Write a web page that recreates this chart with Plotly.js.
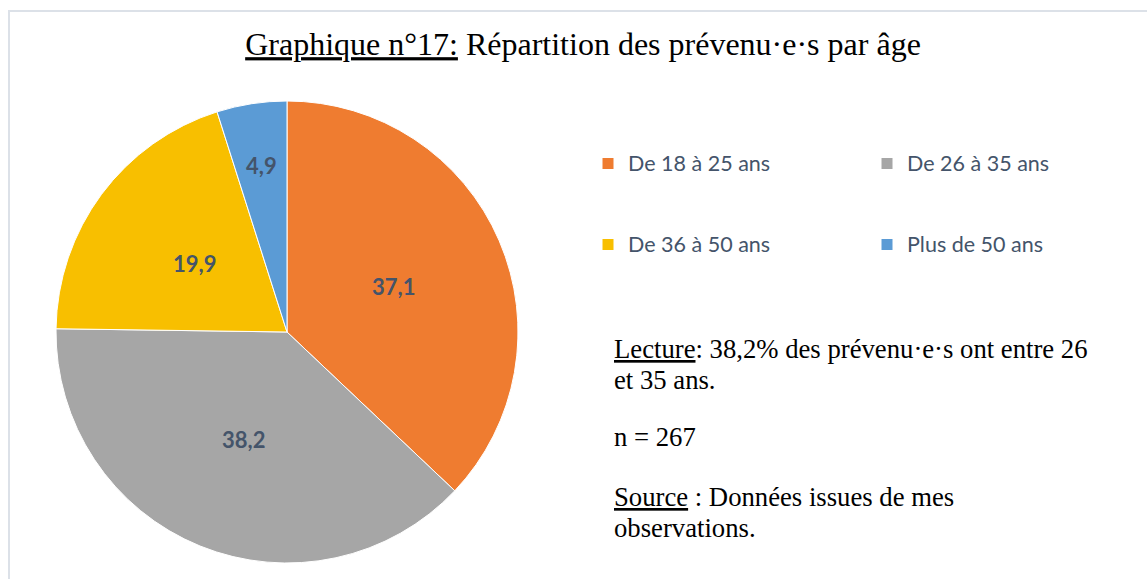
<!DOCTYPE html>
<html>
<head>
<meta charset="utf-8">
<script src="https://cdn.plot.ly/plotly-3.0.1.min.js"></script>
<style>html,body{margin:0;padding:0;background:#fff;}#chart{width:1147px;height:579px;}</style>
</head>
<body>
<div id="chart"></div>
<script>
// ---- data ----
const categories = ['De 18 à 25 ans', 'De 26 à 35 ans', 'De 36 à 50 ans', 'Plus de 50 ans'];
const values = [37.1, 38.2, 19.9, 4.9];
const sliceColors = ['#EF7C30', '#A6A6A6', '#F8BF00', '#5B9BD5'];
const titleText = '<u>Graphique n°17:</u> Répartition des prévenu·e·s par âge';
const noteLines = [
  '<u>Lecture</u>: 38,2% des prévenu·e·s ont entre 26',
  'et 35 ans.',
  'n = 267',
  '<u>Source</u> : Données issues de mes',
  'observations.'
];

// ---- layout helpers (pixels) ----
const W = 1147, H = 579;
const plotW = 700;               // plot area width (right margin leaves room for legend/notes)
const px = x => x / plotW;       // paper x from pixel
const py = y => 1 - y / H;       // paper y from pixel (top-based)
const pieBox = { left: 56, right: 518, top: 101, bottom: 563 };

// legend labels padded with blank lines to get the row spacing of the original
const legendLabels = categories.map(c =>
  '<span style="font-size:21.5px">' + c + '</span><br>\u00a0<br>\u00a0');

const trace = {
  type: 'pie',
  labels: legendLabels,
  values: values,
  sort: false,
  direction: 'clockwise',
  rotation: 0,
  marker: { colors: sliceColors, line: { color: '#ffffff', width: 1 } },
  textinfo: 'none',
  hoverinfo: 'value',
  domain: { x: [px(pieBox.left), px(pieBox.right)], y: [py(pieBox.bottom), py(pieBox.top)] }
};

// data labels: placed along each slice's bisector (computed from the values)
const cx = (pieBox.left + pieBox.right) / 2;
const cy = (pieBox.top + pieBox.bottom) / 2;
const R = (pieBox.right - pieBox.left) / 2;
const total = values.reduce((a, b) => a + b, 0);
const labelFont = { family: 'Lato, sans-serif', size: 22, color: '#44546A', weight: 700 };
let cum = 0;
const dataLabels = values.map(v => {
  const a0 = cum / total * 2 * Math.PI;
  cum += v;
  const a1 = cum / total * 2 * Math.PI;
  const mid = (a0 + a1) / 2, half = (a1 - a0) / 2;
  const txt = String(v).replace('.', ',');
  const halfW = txt.length * 0.27 * labelFont.size;
  const rr = Math.max(0.5 * R, (halfW + 8) / Math.sin(half));
  return {
    text: txt, xref: 'paper', yref: 'paper',
    x: px(cx + rr * Math.sin(mid)), y: py(cy - rr * Math.cos(mid)),
    xanchor: 'center', yanchor: 'middle', showarrow: false, font: labelFont
  };
});

const notePos = [349, 380, 437, 497, 528];
const notes = noteLines.map((t, i) => ({
  text: t, xref: 'paper', yref: 'paper', x: px(612), y: py(notePos[i]),
  xanchor: 'left', yanchor: 'middle', showarrow: false, align: 'left',
  font: { family: 'Liberation Serif, Times New Roman, serif', size: 26.7, color: '#000000' }
}));

const layout = {
  width: W, height: H,
  margin: { l: 0, r: W - plotW, t: 0, b: 0, autoexpand: false },
  paper_bgcolor: '#ffffff',
  plot_bgcolor: '#ffffff',
  separators: ', ',
  title: {
    text: titleText, xref: 'container', yref: 'container',
    x: 583 / W, xanchor: 'center', y: 1 - 44 / H, yanchor: 'middle',
    font: { family: 'Liberation Serif, Times New Roman, serif', size: 32, color: '#000000' }
  },
  showlegend: true,
  legend: {
    orientation: 'h', x: px(588), xanchor: 'left', y: py(144), yanchor: 'top',
    entrywidth: 234, entrywidthmode: 'pixels', valign: 'top', traceorder: 'normal',
    bgcolor: 'rgba(0,0,0,0)',
    font: { family: 'Lato, sans-serif', size: 20, color: '#44546A' }
  },
  shapes: [{
    type: 'rect', xref: 'paper', yref: 'paper',
    x0: px(9), x1: px(1200), y0: -0.2, y1: py(11),
    line: { color: '#DCE1E8', width: 2 }, fillcolor: 'rgba(0,0,0,0)', layer: 'below'
  }],
  annotations: dataLabels.concat(notes)
};

Plotly.newPlot('chart', [trace], layout, { displayModeBar: false, responsive: false });
</script>
</body>
</html>
